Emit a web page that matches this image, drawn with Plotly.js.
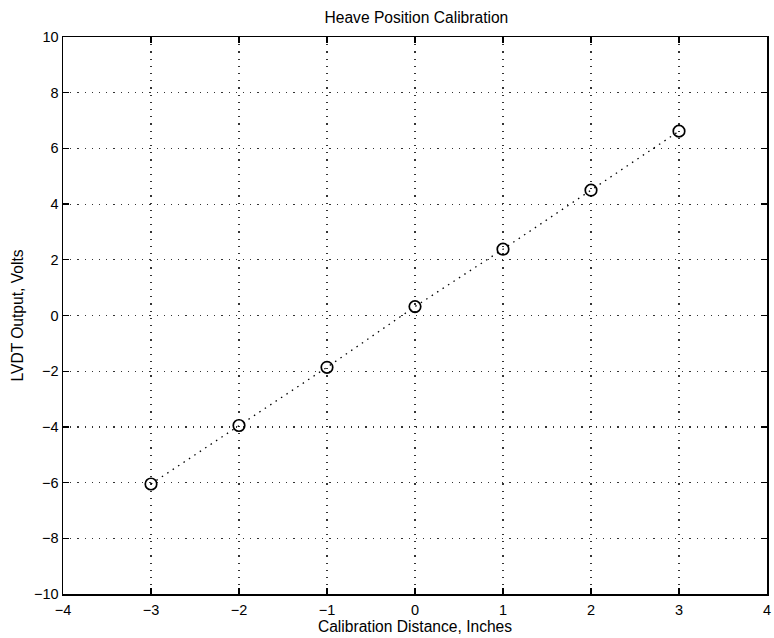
<!DOCTYPE html>
<html>
<head>
<meta charset="utf-8">
<script src="https://cdn.plot.ly/plotly-3.0.1.min.js"></script>
<style>html,body{margin:0;padding:0;background:#fff;}#chart{width:774px;height:638px;}</style>
</head>
<body>
<div id="chart"></div>
<script>
const calibrationInches = [-3, -2, -1, 0, 1, 2, 3];
const lvdtVolts = [-6.05, -3.95, -1.86, 0.32, 2.38, 4.5, 6.62];
const xTicks = [-4, -3, -2, -1, 0, 1, 2, 3, 4];
const yTicks = [-10, -8, -6, -4, -2, 0, 2, 4, 6, 8, 10];
const tickText = v => (v < 0 ? '\u2212' + Math.abs(v) : String(v));

const fam = 'Liberation Sans, Arial, Helvetica, sans-serif';
const tickFont = {family: fam, color: '#000', size: 14.5};
const titleFont = {family: fam, color: '#000', size: 15.6};

const traces = [{
  x: calibrationInches,
  y: lvdtVolts,
  mode: 'lines+markers',
  line: {color: '#000', width: 1.3, dash: '1.5px,5px'},
  marker: {symbol: 'circle-open', size: 11.5, color: '#000', line: {color: '#000', width: 1.7}},
  showlegend: false,
  hoverinfo: 'x+y'
}];

const axisCommon = {
  showline: true, mirror: 'ticks', linecolor: '#000', linewidth: 1.5,
  ticks: 'inside', ticklen: 6, tickwidth: 1.3, tickcolor: '#000',
  showgrid: true, gridcolor: '#333', gridwidth: 1.2, griddash: '1.2px,6px',
  zeroline: false, tickfont: tickFont, automargin: false
};

const layout = {
  width: 774, height: 638,
  margin: {l: 63, r: 7, t: 37, b: 44},
  paper_bgcolor: '#fff', plot_bgcolor: '#fff',
  font: tickFont,
  title: {text: 'Heave Position Calibration', font: titleFont, x: 0.538, xanchor: 'center', yref: 'container', y: 1 - 17.5 / 638, yanchor: 'middle'},
  xaxis: Object.assign({}, axisCommon, {
    range: [-4, 4], tickvals: xTicks, ticktext: xTicks.map(tickText), ticklabelstandoff: 2,
    title: {text: 'Calibration Distance, Inches', font: titleFont, standoff: 0}
  }),
  yaxis: Object.assign({}, axisCommon, {
    range: [-10, 10], tickvals: yTicks, ticktext: yTicks.map(tickText),
    title: {text: 'LVDT Output, Volts', font: titleFont, standoff: 6}
  })
};

Plotly.newPlot('chart', traces, layout, {displayModeBar: false, staticPlot: true});
</script>
</body>
</html>
